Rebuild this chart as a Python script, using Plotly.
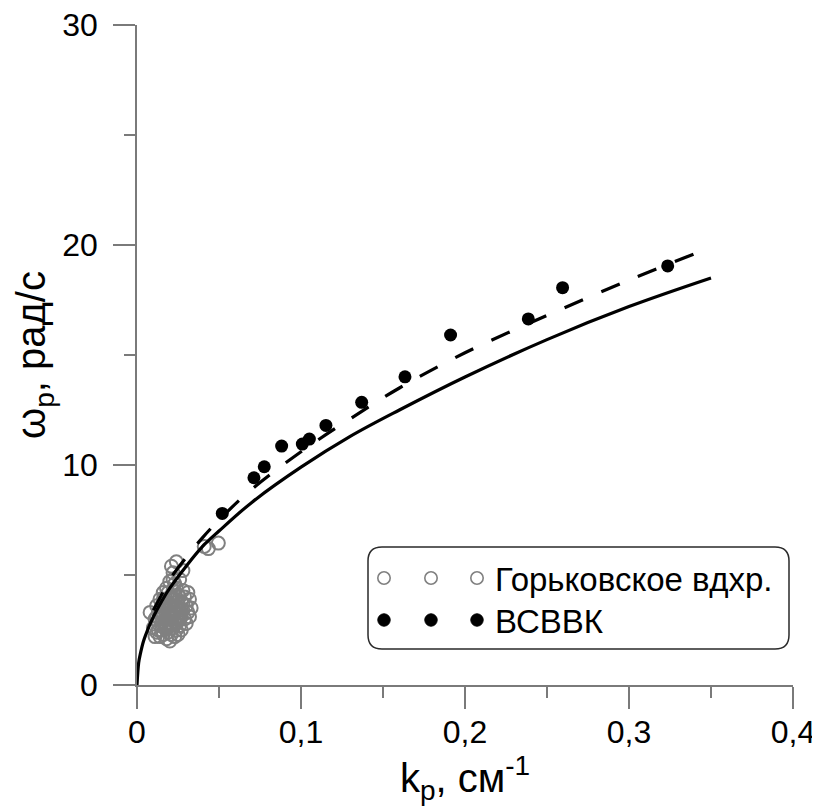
import plotly.graph_objects as go

# ---------------- data ----------------
# Горьковское вдхр. (open gray circles)
gork_k = [0.008, 0.010, 0.011, 0.011, 0.012, 0.012, 0.013, 0.013, 0.014, 0.014,
          0.015, 0.015, 0.015, 0.016, 0.016, 0.016, 0.017, 0.017, 0.017, 0.018,
          0.018, 0.018, 0.019, 0.019, 0.019, 0.020, 0.020, 0.020, 0.020, 0.021,
          0.021, 0.021, 0.021, 0.022, 0.022, 0.022, 0.022, 0.023, 0.023, 0.023,
          0.023, 0.024, 0.024, 0.024, 0.025, 0.025, 0.025, 0.026, 0.026, 0.026,
          0.027, 0.027, 0.027, 0.028, 0.028, 0.028, 0.029, 0.029, 0.030, 0.030,
          0.031, 0.031, 0.032, 0.032, 0.033, 0.041, 0.0435, 0.0496,
          0.013, 0.014, 0.016, 0.017, 0.018, 0.019, 0.020, 0.021, 0.022, 0.023,
          0.024, 0.025, 0.026, 0.027, 0.015, 0.018, 0.021, 0.024, 0.019, 0.022,
          0.016, 0.020, 0.023, 0.026, 0.028, 0.012]
gork_w = [3.3, 2.6, 2.2, 3.0, 3.6, 2.4, 2.8, 3.3, 2.2, 3.9,
          2.5, 3.1, 3.6, 2.3, 2.9, 4.2, 2.6, 3.4, 3.8, 2.1,
          3.0, 4.4, 2.4, 3.2, 3.7, 2.0, 2.7, 4.0, 4.7, 2.3,
          3.0, 3.5, 5.4, 2.6, 3.9, 4.3, 5.1, 2.2, 2.9, 3.3,
          4.6, 2.5, 3.6, 5.6, 3.0, 4.1, 2.3, 3.4, 2.7, 4.8,
          3.8, 3.1, 2.5, 4.3, 3.4, 5.2, 3.0, 4.0, 3.6, 2.8,
          3.3, 4.2, 3.9, 3.1, 3.5, 6.3, 6.2, 6.45,
          2.5, 3.4, 3.2, 3.0, 3.5, 2.8, 3.3, 2.7, 3.1, 3.6,
          2.8, 3.5, 3.0, 3.4, 2.8, 2.6, 4.0, 4.4, 4.2, 4.8,
          3.9, 3.6, 3.9, 4.0, 3.7, 3.1]

# ВСВВК (filled black circles)
vsvvk_k = [0.0520, 0.0713, 0.0776, 0.0882, 0.1008, 0.1051, 0.1152,
           0.1370, 0.1634, 0.1912, 0.2386, 0.2595, 0.3236]
vsvvk_w = [7.80, 9.42, 9.92, 10.86, 10.95, 11.18, 11.80,
           12.85, 14.01, 15.91, 16.64, 18.06, 19.05]

# solid curve
solid_k = [0, 0.001, 0.002, 0.004, 0.007, 0.01, 0.015, 0.02, 0.03, 0.04, 0.05,
           0.07, 0.1, 0.13, 0.16, 0.2, 0.25, 0.3, 0.35]
solid_w = [0, 1.0, 1.4, 2.0, 2.6, 3.1, 3.8, 4.4, 5.4, 6.3, 7.0,
           8.3, 9.9, 11.3, 12.5, 14.0, 15.7, 17.2, 18.5]

# dashed curve
dash_k = [0.01, 0.015, 0.02, 0.03, 0.04, 0.05, 0.07, 0.1, 0.13, 0.16, 0.2,
          0.25, 0.3, 0.35]
dash_w = [3.4, 4.1, 4.8, 5.8, 6.7, 7.5, 8.9, 10.6, 12.1, 13.5, 15.1,
          16.8, 18.4, 19.9]

x_tickvals = [0, 0.1, 0.2, 0.3, 0.4]
x_ticktext = ["0", "0,1", "0,2", "0,3", "0,4"]
y_tickvals = [0, 10, 20, 30]
y_ticktext = ["0", "10", "20", "30"]

legend_names = ["Горьковское вдхр.", "ВСВВК"]

# ---------------- figure ----------------
FONT = "Liberation Sans, Arial, sans-serif"
AX = "#7a7a7a"

OFF = 8                      # page body margin
W, H = 820 - OFF, 811 - OFF
L, R, T, B = 137 - OFF, 27, 25 - OFF, 126
pw, ph = W - L - R, H - T - B

fig = go.Figure()
fig.add_trace(go.Scatter(
    x=gork_k, y=gork_w, mode="markers", showlegend=False,
    marker=dict(symbol="circle-open", size=13, color="#808080",
                line=dict(width=2, color="#808080"))))
fig.add_trace(go.Scatter(
    x=solid_k, y=solid_w, mode="lines", line_shape="spline", showlegend=False,
    line=dict(color="black", width=3.2)))
fig.add_trace(go.Scatter(
    x=dash_k, y=dash_w, mode="lines", line_shape="spline", showlegend=False,
    line=dict(color="black", width=3.2, dash="20px,20px")))
fig.add_trace(go.Scatter(
    x=vsvvk_k, y=vsvvk_w, mode="markers", showlegend=False,
    marker=dict(symbol="circle", size=13, color="black", line=dict(width=0))))


# ---- custom legend (rounded box, three symbols per row) ----
def px(xp):  # page pixel -> paper
    return (xp - OFF - L) / pw


def py(yp):
    return (H - B - (yp - OFF)) / ph


x0, x1, y0, y1, r = 368, 789, 547, 649, 14
path = (f"M {px(x0 + r)},{py(y0)} L {px(x1 - r)},{py(y0)} "
        f"Q {px(x1)},{py(y0)} {px(x1)},{py(y0 + r)} "
        f"L {px(x1)},{py(y1 - r)} Q {px(x1)},{py(y1)} {px(x1 - r)},{py(y1)} "
        f"L {px(x0 + r)},{py(y1)} Q {px(x0)},{py(y1)} {px(x0)},{py(y1 - r)} "
        f"L {px(x0)},{py(y0 + r)} Q {px(x0)},{py(y0)} {px(x0 + r)},{py(y0)} Z")
fig.add_shape(type="path", path=path, xref="paper", yref="paper",
              line=dict(color="#2a2a2a", width=1.5), fillcolor="white", layer="above")

sym_x = [384, 431, 477]
rows = [(578, dict(color="#808080", width=1.6), "rgba(0,0,0,0)", 6.2),
        (620, dict(color="black", width=1), "black", 6.2)]
for (yc, ln, fc, rad), name in zip(rows, legend_names):
    for sx in sym_x:
        fig.add_shape(type="circle", xref="paper", yref="paper",
                      xsizemode="pixel", ysizemode="pixel",
                      xanchor=px(sx), yanchor=py(yc),
                      x0=-rad, x1=rad, y0=-rad, y1=rad,
                      line=ln, fillcolor=fc, layer="above")
    fig.add_annotation(x=px(493), y=py(yc + 1), xref="paper", yref="paper",
                       text=name, showarrow=False, xanchor="left", yanchor="middle",
                       font=dict(family=FONT, size=33, color="black"))

axis_common = dict(
    showline=True, linecolor=AX, linewidth=1.5, mirror=False,
    showgrid=False, zeroline=False,
    ticks="outside", ticklen=22, tickwidth=1.5, tickcolor=AX,
    tickfont=dict(family=FONT, size=32, color="black"),
    ticklabeloverflow="allow",
)

fig.update_xaxes(
    range=[0, 0.4], tickvals=x_tickvals, ticktext=x_ticktext,
    minor=dict(ticks="outside", ticklen=11, tickwidth=1.5, tickcolor=AX, dtick=0.05),
    ticklabelstandoff=-4,
    title=dict(text="k<sub>p</sub>, см<sup>-1</sup>",
               font=dict(family=FONT, size=40, color="black"), standoff=6),
    **axis_common)
fig.update_yaxes(
    range=[0, 30], tickvals=y_tickvals, ticktext=y_ticktext,
    minor=dict(ticks="outside", ticklen=11, tickwidth=1.5, tickcolor=AX, dtick=5),
    ticklabelstandoff=9,
    title=dict(text="ω<sub>p</sub>, рад/с",
               font=dict(family=FONT, size=40, color="black"), standoff=4),
    **axis_common)

fig.update_layout(
    width=W, height=H,
    margin=dict(l=L, r=R, t=T, b=B, autoexpand=False),
    plot_bgcolor="white", paper_bgcolor="white",
    showlegend=False,
    font=dict(family=FONT, color="black"),
)

fig.write_html("out.html")
